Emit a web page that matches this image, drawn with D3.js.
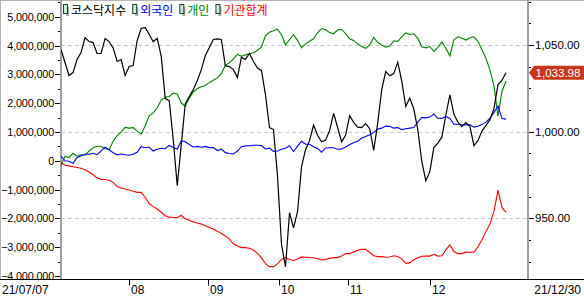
<!DOCTYPE html>
<html>
<head>
<meta charset="utf-8">
<script src="https://cdn.jsdelivr.net/npm/d3@7"></script>
<style>
  body { margin: 0; background: #fff; }
  text { font-family: "Liberation Sans", Arial, sans-serif; }
  .kr { font-family: "Noto Sans CJK KR", sans-serif; }
</style>
</head>
<body>
<script>
// KOSDAQ INDEX (RIGHT AXIS), ONE SAMPLE PER STEP FROM 21/07/07 TO 21/12/30
var kosdaq = [
  1047.4, 1039.9, 1032.4, 1034.1, 1041.6, 1045.7, 1054.3, 1052.0, 1051.4, 1045.1,
  1045.1, 1053.8, 1052.0, 1048.3, 1040.5, 1041.6, 1032.4, 1037.6, 1038.1, 1052.6,
  1059.5, 1060.1, 1056.1, 1052.0, 1053.8, 1043.4, 1019.1, 1017.9, 995.4, 968.8,
  992.5, 1016.2, 1020.2, 1024.3, 1029.5, 1035.8, 1043.9, 1048.6, 1053.2, 1053.5,
  1053.2, 1037.9, 1037.6, 1035.8, 1031.2, 1042.8, 1041.6, 1045.1, 1040.5, 1036.7,
  1035.3, 1021.4, 1002.3, 1001.2, 974.6, 935.0, 922.0, 953.2, 944.5, 953.8,
  979.8, 989.6, 994.8, 1003.8, 997.9, 994.2, 995.1, 1000.6, 1010.6, 1002.4,
  994.1, 998.0, 1009.2, 1005.4, 1002.6, 1002.3, 1004.6, 1001.7, 989.2, 1004.9,
  1024.3, 1034.7, 1032.2, 1033.5, 1040.1, 1029.2, 1014.5, 1019.4, 1013.1, 1001.2,
  982.8, 971.7, 976.9, 990.8, 993.4, 996.8, 1009.6, 1021.2, 1010.1, 1005.5,
  1002.9, 1005.2, 1003.1, 991.9, 994.8, 1000.3, 1003.6, 1006.9, 1013.3, 1027.2,
  1029.7, 1033.98
]

// 외국인 (LEFT AXIS)
var foreign = [
  157000, -3000, -17000, -87000, 105000, 174000, 226000, 226000, 261000, 209000,
  345000, 470000, 383000, 279000, 206000, 233000, 206000, 192000, 226000, 296000,
  488000, 453000, 470000, 338000, 401000, 436000, 418000, 533000, 463000, 408000,
  697000, 662000, 564000, 477000, 498000, 470000, 498000, 456000, 456000, 355000,
  401000, 282000, 251000, 233000, 338000, 488000, 516000, 519000, 540000, 540000,
  526000, 408000, 436000, 324000, 338000, 401000, 436000, 523000, 321000, 505000,
  679000, 575000, 575000, 484000, 429000, 296000, 443000, 453000, 449000, 401000,
  411000, 477000, 564000, 627000, 679000, 787000, 843000, 906000, 976000, 1098000,
  1132000, 1202000, 1195000, 1132000, 1150000, 1080000, 1108000, 1132000, 1153000, 1341000,
  1505000, 1488000, 1516000, 1620000, 1474000, 1470000, 1540000, 1470000, 1272000, 1258000,
  1251000, 1244000, 1251000, 1167000, 1195000, 1254000, 1341000, 1481000, 1672000, 1899000,
  1463000, 1446000
]

// 개인 (LEFT AXIS)
var individual = [
  -157000, 157000, 105000, 261000, 157000, 209000, 192000, 331000, 453000, 505000,
  505000, 418000, 383000, 679000, 871000, 993000, 1157000, 1132000, 1150000, 1028000,
  923000, 1213000, 1561000, 1662000, 1829000, 2108000, 2206000, 2230000, 2352000, 2317000,
  2003000, 1899000, 2178000, 2387000, 2509000, 2571000, 2610000, 2711000, 2791000, 2875000,
  3031000, 3310000, 3397000, 3537000, 3693000, 3624000, 3676000, 3711000, 3746000, 3833000,
  3955000, 4338000, 4460000, 4512000, 4571000, 4373000, 4024000, 4199000, 4373000, 4178000,
  3920000, 4059000, 4146000, 4233000, 4443000, 4589000, 4547000, 4449000, 4408000, 4547000,
  4557000, 4415000, 4233000, 4178000, 4059000, 3962000, 3902000, 4024000, 4279000, 4111000,
  4017000, 3944000, 3983000, 4164000, 4146000, 4296000, 4436000, 4383000, 4408000, 4247000,
  3955000, 3920000, 3965000, 3798000, 3937000, 4122000, 3906000, 3641000, 4199000, 4303000,
  4251000, 4188000, 4268000, 4303000, 4146000, 3850000, 3554000, 3153000, 2596000, 1551000,
  2404000, 2770000
]

// 기관합계 (LEFT AXIS)
var institution = [
  -52000, -157000, -178000, -206000, -233000, -261000, -314000, -390000, -484000, -592000,
  -645000, -648000, -679000, -749000, -895000, -948000, -983000, -1014000, -1056000, -1098000,
  -1098000, -1275000, -1484000, -1592000, -1676000, -1787000, -1909000, -1958000, -1969000, -1969000,
  -1899000, -2010000, -2066000, -2122000, -2160000, -2199000, -2254000, -2314000, -2369000, -2443000,
  -2526000, -2613000, -2721000, -2882000, -2958000, -3014000, -3014000, -3035000, -3098000, -3213000,
  -3373000, -3571000, -3676000, -3676000, -3582000, -3425000, -3362000, -3429000, -3463000, -3408000,
  -3338000, -3348000, -3362000, -3366000, -3394000, -3446000, -3432000, -3387000, -3362000, -3362000,
  -3310000, -3223000, -3223000, -3167000, -3111000, -3070000, -3077000, -3185000, -3296000, -3328000,
  -3328000, -3348000, -3341000, -3296000, -3324000, -3404000, -3564000, -3537000, -3436000, -3369000,
  -3314000, -3310000, -3310000, -3247000, -3310000, -3300000, -3091000, -2920000, -3153000, -3223000,
  -3223000, -3171000, -3178000, -3174000, -2993000, -2742000, -2460000, -2192000, -1760000, -1021000,
  -1620000, -1794000
]

var seriesNames = ['코스닥지수', '외국인', '개인', '기관합계']
var seriesColors = ['#000000', '#0000ff', '#008000', '#ff0000']

// MONTH TICKS: SAMPLE INDEX WHERE EACH MONTH STARTS
var monthLabels = ['08', '09', '10', '11', '12']
var monthIndex = [16.9, 36.6, 54.3, 71.7, 92.1]
var startDate = '21/07/07'
var endDate = '21/12/30'

var leftTicks = [-4000000, -3000000, -2000000, -1000000, 0, 1000000, 2000000, 3000000, 4000000, 5000000]
var rightTicks = [950, 1000, 1050]

var w = 584
var h = 298
var plot = { left: 61, right: 528, top: 0, bottom: 279.5 }

var svg = d3.select('body')
  .append('svg')
  .attr('width', w)
  .attr('height', h)

var x = d3.scaleLinear()
  .domain([0, kosdaq.length - 1])
  .range([61, 506])

var yLeft = d3.scaleLinear()
  .domain([-4000000, 5000000])
  .range([276, 16.7])

var yRight = d3.scaleLinear()
  .domain([950, 1050])
  .range([218.3, 45])

// FRAME
svg.append('line')
  .attr('x1', 0.5).attr('x2', 0.5).attr('y1', 0).attr('y2', plot.bottom)
  .attr('stroke', '#b4b4b4')
svg.append('line')
  .attr('x1', 0).attr('x2', w).attr('y1', 0.5).attr('y2', 0.5)
  .attr('stroke', '#b4b4b4')

// DASHED GRID AT RIGHT AXIS MAJORS
svg.selectAll('.grid')
  .data(rightTicks)
  .enter()
    .append('line')
    .classed('grid', true)
    .attr('x1', plot.left)
    .attr('x2', plot.right)
    .attr('y1', function (d) { return Math.round(yRight(d)) + 0.5 })
    .attr('y2', function (d) { return Math.round(yRight(d)) + 0.5 })
    .attr('stroke', '#c8c8c8')
    .attr('stroke-dasharray', '4,3')

// LEFT AXIS
var leftAxis = svg.append('g').attr('transform', 'translate(' + plot.left + ',0)')
leftAxis.selectAll('.minor')
  .data(d3.range(-4000000, 5500001, 500000))
  .enter()
    .append('line')
    .attr('x1', -3)
    .attr('x2', 0)
    .attr('y1', function (d) { return Math.round(yLeft(d)) + 0.5 })
    .attr('y2', function (d) { return Math.round(yLeft(d)) + 0.5 })
    .attr('stroke', '#000')
leftAxis.selectAll('.major')
  .data(leftTicks)
  .enter()
    .append('line')
    .attr('x1', -6)
    .attr('x2', 0)
    .attr('y1', function (d) { return Math.round(yLeft(d)) + 0.5 })
    .attr('y2', function (d) { return Math.round(yLeft(d)) + 0.5 })
    .attr('stroke', '#000')
leftAxis.selectAll('.lbl')
  .data(leftTicks)
  .enter()
    .append('text')
    .attr('x', -7)
    .attr('y', function (d) { return yLeft(d) })
    .attr('dy', 4)
    .attr('text-anchor', 'end')
    .attr('font-size', 10.8)
    .attr('letter-spacing', -0.15)
    .text(function (d) { return d3.format(',')(d) })

// RIGHT AXIS
var rightAxis = svg.append('g').attr('transform', 'translate(' + plot.right + ',0)')
rightAxis.selectAll('.minor')
  .data(d3.range(925, 1075.1, 12.5))
  .enter()
    .append('line')
    .attr('x1', 0)
    .attr('x2', 3)
    .attr('y1', function (d) { return Math.round(yRight(d)) + 0.5 })
    .attr('y2', function (d) { return Math.round(yRight(d)) + 0.5 })
    .attr('stroke', '#000')
rightAxis.selectAll('.major')
  .data(rightTicks)
  .enter()
    .append('line')
    .attr('x1', 0)
    .attr('x2', 6)
    .attr('y1', function (d) { return Math.round(yRight(d)) + 0.5 })
    .attr('y2', function (d) { return Math.round(yRight(d)) + 0.5 })
    .attr('stroke', '#000')
rightAxis.selectAll('.lbl')
  .data(rightTicks)
  .enter()
    .append('text')
    .attr('x', 7)
    .attr('y', function (d) { return yRight(d) })
    .attr('dy', 4)
    .attr('font-size', 11.5)
    .text(function (d) { return d3.format(',.2f')(d) })

// PLOT SIDES
svg.append('line')
  .attr('x1', plot.left).attr('x2', plot.left).attr('y1', 0).attr('y2', plot.bottom)
  .attr('stroke', '#a0a0a0').attr('stroke-width', 2)
svg.append('line')
  .attr('x1', plot.right).attr('x2', plot.right).attr('y1', 0).attr('y2', plot.bottom)
  .attr('stroke', '#a0a0a0').attr('stroke-width', 2)

// BOTTOM AXIS
svg.append('rect')
  .attr('x', 0).attr('y', plot.bottom).attr('width', w).attr('height', h - plot.bottom)
  .attr('fill', '#fff')
svg.append('line')
  .attr('x1', 0).attr('x2', w).attr('y1', plot.bottom).attr('y2', plot.bottom)
  .attr('stroke', '#000')

svg.selectAll('.mtick')
  .data(monthIndex)
  .enter()
    .append('line')
    .attr('x1', function (d) { return Math.round(x(d)) + 0.5 })
    .attr('x2', function (d) { return Math.round(x(d)) + 0.5 })
    .attr('y1', plot.bottom)
    .attr('y2', plot.bottom + 6)
    .attr('stroke', '#000')
svg.selectAll('.mlabel')
  .data(monthIndex)
  .enter()
    .append('text')
    .attr('x', function (d) { return Math.round(x(d)) + 2 })
    .attr('y', 294)
    .attr('font-size', 12)
    .text(function (d, i) { return monthLabels[i] })

svg.append('text').attr('x', 2).attr('y', 294).attr('font-size', 12).text(startDate)
svg.append('text').attr('x', 581).attr('y', 294).attr('font-size', 12)
  .attr('text-anchor', 'end').text(endDate)

// LINES
var clip = svg.append('clipPath').attr('id', 'clip')
clip.append('rect')
  .attr('x', plot.left).attr('y', 0)
  .attr('width', plot.right - plot.left).attr('height', plot.bottom)

var lines = svg.append('g').attr('clip-path', 'url(#clip)')

var lineLeft = d3.line()
  .x(function (d, i) { return x(i) })
  .y(function (d) { return yLeft(d) })
var lineRight = d3.line()
  .x(function (d, i) { return x(i) })
  .y(function (d) { return yRight(d) })

var leftSeries = [individual, foreign, institution]
var leftColors = [seriesColors[2], seriesColors[1], seriesColors[3]]
leftSeries.forEach(function (s, k) {
  lines.append('path')
    .attr('d', lineLeft(s))
    .attr('fill', 'none')
    .attr('stroke', leftColors[k])
    .attr('stroke-width', 1.1)
})
lines.append('path')
  .attr('d', lineRight(kosdaq))
  .attr('fill', 'none')
  .attr('stroke', seriesColors[0])
  .attr('stroke-width', 1.2)

// LAST VALUE TAG
var last = kosdaq[kosdaq.length - 1]
var ty = yRight(last)
svg.append('path')
  .attr('d', 'M' + (plot.right + 1) + ',' + ty + 'L' + (plot.right + 6) + ',' + (ty - 7) +
    'H' + w + 'V' + (ty + 7) + 'H' + (plot.right + 6) + 'Z')
  .attr('fill', '#c8371d')
svg.append('text')
  .attr('x', 558)
  .attr('y', ty)
  .attr('dy', 4.5)
  .attr('text-anchor', 'middle')
  .attr('font-size', 11.5)
  .attr('fill', '#fff')
  .text(d3.format(',.2f')(last))

// LEGEND
var lx = 63
seriesNames.forEach(function (name, i) {
  var g = svg.append('g')
  g.append('rect')
    .attr('x', lx + 3).attr('y', 7).attr('width', 3).attr('height', 9)
    .attr('fill', '#a8a8a8')
  g.append('rect')
    .attr('x', lx + 0.5).attr('y', 4.5).attr('width', 4).attr('height', 9)
    .attr('fill', '#c8f0d0')
    .attr('stroke', '#1e3c32')
  var t = g.append('text')
    .classed('kr', true)
    .attr('x', lx + 8)
    .attr('y', 15)
    .attr('font-size', 12)
    .attr('fill', seriesColors[i])
    .text(name)
  lx = lx + 8 + t.node().getComputedTextLength() + 6
})
</script>
</body>
</html>
